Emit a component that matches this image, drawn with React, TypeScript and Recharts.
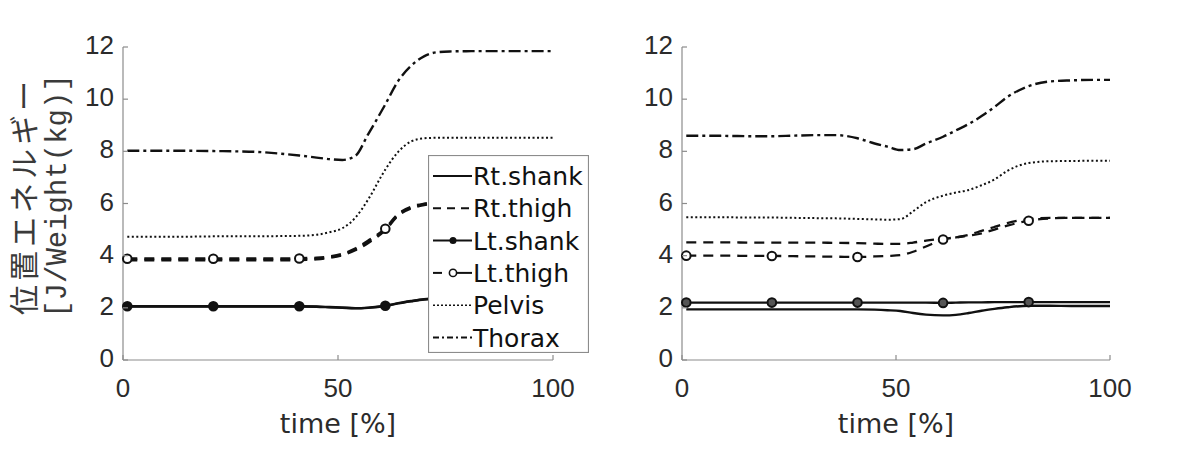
import React from 'react';
import { LineChart, Line, XAxis, YAxis } from 'recharts';

// sample times (% of cycle); markers sit on every 20th sample
const TIME = [1, 6, 11, 16, 21, 26, 31, 36, 41, 45, 48, 51, 54, 57, 61, 64, 67, 70, 73, 76, 81, 86, 91, 96, 100];
const MARK_T = [1, 21, 41, 61, 81];
const X_TICKS = [0, 50, 100];
const Y_TICKS = [0, 2, 4, 6, 8, 10, 12];

// left trial
const L_RT_SHANK = [2.05, 2.05, 2.05, 2.05, 2.05, 2.05, 2.05, 2.05, 2.05, 2.04, 2.02, 2.0, 1.98, 2.0, 2.07, 2.17, 2.25, 2.32, 2.36, 2.38, 2.4, 2.4, 2.4, 2.4, 2.4];
const L_RT_THIGH = [3.83, 3.83, 3.83, 3.83, 3.83, 3.83, 3.83, 3.83, 3.84, 3.87, 3.93, 4.03, 4.22, 4.5, 5.0, 5.55, 5.82, 5.95, 6.0, 6.02, 6.02, 6.02, 6.02, 6.02, 6.02];
const L_LT_SHANK = [2.06, 2.06, 2.06, 2.06, 2.06, 2.06, 2.06, 2.06, 2.06, 2.05, 2.03, 2.01, 1.99, 2.01, 2.08, 2.18, 2.26, 2.33, 2.37, 2.39, 2.41, 2.41, 2.41, 2.41, 2.41];
const L_LT_THIGH = [3.88, 3.88, 3.88, 3.88, 3.88, 3.88, 3.88, 3.88, 3.89, 3.91, 3.96, 4.06, 4.26, 4.56, 5.03, 5.59, 5.86, 5.98, 6.03, 6.05, 6.05, 6.05, 6.05, 6.05, 6.05];
const L_PELVIS = [4.73, 4.73, 4.73, 4.73, 4.74, 4.74, 4.74, 4.75, 4.76, 4.8, 4.9, 5.05, 5.45, 6.15, 7.3, 7.98, 8.38, 8.5, 8.52, 8.52, 8.52, 8.52, 8.52, 8.52, 8.52];
const L_THORAX = [8.02, 8.02, 8.02, 8.02, 8.01, 8.0, 7.98, 7.92, 7.84, 7.76, 7.7, 7.67, 7.82, 8.65, 9.8, 10.7, 11.28, 11.64, 11.8, 11.83, 11.84, 11.84, 11.84, 11.84, 11.84];

// right trial
const R_RT_SHANK = [1.94, 1.94, 1.94, 1.94, 1.94, 1.94, 1.94, 1.94, 1.94, 1.93, 1.91, 1.88, 1.8, 1.74, 1.71, 1.73, 1.8, 1.89, 1.96, 2.02, 2.08, 2.08, 2.07, 2.07, 2.07];
const R_RT_THIGH = [4.51, 4.51, 4.51, 4.5, 4.5, 4.5, 4.5, 4.49, 4.48, 4.46, 4.45, 4.45, 4.5, 4.58, 4.65, 4.7, 4.8, 4.95, 5.1, 5.25, 5.4, 5.45, 5.45, 5.45, 5.45];
const R_LT_SHANK = [2.2, 2.2, 2.2, 2.2, 2.2, 2.2, 2.2, 2.2, 2.2, 2.2, 2.2, 2.2, 2.2, 2.2, 2.19, 2.2, 2.21, 2.21, 2.22, 2.22, 2.22, 2.22, 2.22, 2.22, 2.22];
const R_LT_THIGH = [4.0, 4.0, 4.0, 3.99, 3.99, 3.98, 3.97, 3.96, 3.95, 3.97, 3.99, 4.02, 4.15, 4.35, 4.62, 4.7, 4.77, 4.85, 5.0, 5.15, 5.34, 5.43, 5.45, 5.45, 5.45];
const R_PELVIS = [5.47, 5.47, 5.47, 5.46, 5.46, 5.45, 5.44, 5.43, 5.41, 5.39, 5.38, 5.4, 5.7, 6.05, 6.3, 6.42, 6.52, 6.7, 6.92, 7.25, 7.55, 7.62, 7.63, 7.64, 7.64];
const R_THORAX = [8.6, 8.6, 8.59, 8.58, 8.58, 8.6, 8.62, 8.62, 8.5, 8.3, 8.18, 8.05, 8.08, 8.3, 8.56, 8.8, 9.05, 9.35, 9.7, 10.08, 10.5, 10.68, 10.72, 10.74, 10.74];

const LEGEND_NAMES = ['Rt.shank', 'Rt.thigh', 'Lt.shank', 'Lt.thigh', 'Pelvis', 'Thorax'];

const buildRows = (rs: number[], rt: number[], ls: number[], lt: number[], pv: number[], th: number[]) =>
  TIME.map((t, i) => ({ t, rs: rs[i], rt: rt[i], ls: ls[i], lt: lt[i], pv: pv[i], th: th[i] }));

const leftRows = buildRows(L_RT_SHANK, L_RT_THIGH, L_LT_SHANK, L_LT_THIGH, L_PELVIS, L_THORAX);
const rightRows = buildRows(R_RT_SHANK, R_RT_THIGH, R_LT_SHANK, R_LT_THIGH, R_PELVIS, R_THORAX);

const INK = '#111';
const AXIS = '#8c8c8c';
const TICK_FONT = '"Liberation Sans", Arial, sans-serif';
const TEXT_FONT = '"DejaVu Sans", sans-serif';

const XTick = (p: any) => (
  <g>
    <line x1={p.x} y1={p.y} x2={p.x} y2={p.y - 5} stroke={AXIS} strokeWidth={1.2} />
    <text x={p.x} y={p.y + 37} textAnchor="middle" fontSize={26} fontFamily={TICK_FONT} fill="#2b2b2b">
      {p.payload.value}
    </text>
  </g>
);

const YTick = (p: any) => (
  <g>
    <line x1={p.x} y1={p.y} x2={p.x + 5} y2={p.y} stroke={AXIS} strokeWidth={1.2} />
    <text x={p.x - 9} y={p.y + 7} textAnchor="end" fontSize={26} fontFamily={TICK_FONT} fill="#2b2b2b">
      {p.payload.value}
    </text>
  </g>
);

const markerDot = (fill: string) => (p: any) =>
  MARK_T.includes(p.payload.t) ? (
    <circle key={p.index} cx={p.cx} cy={p.cy} r={4.3} fill={fill} stroke={INK} strokeWidth={2} />
  ) : (
    <g key={p.index} />
  );

function Panel({ rows, width, left, right, thighWidth, shankFill }: any) {
  return (
    <LineChart width={width} height={460} data={rows} margin={{ top: 47, right, bottom: 0, left }}>
      <XAxis
        dataKey="t"
        type="number"
        domain={[0, 100]}
        ticks={X_TICKS}
        height={100}
        axisLine={{ stroke: AXIS, strokeWidth: 1.2 }}
        tickLine={false}
        tickSize={0}
        tickMargin={0}
        tick={XTick}
        label={{ value: 'time [%]', position: 'insideBottom', offset: 27, fontSize: 27, fontFamily: TEXT_FONT, fill: '#2b2b2b' }}
      />
      <YAxis
        type="number"
        domain={[0, 12]}
        ticks={Y_TICKS}
        width={60}
        axisLine={{ stroke: AXIS, strokeWidth: 1.2 }}
        tickLine={false}
        tickSize={0}
        tickMargin={0}
        tick={YTick}
      />
      <Line dataKey="th" type="monotone" stroke={INK} strokeWidth={2.4} strokeDasharray="12 4 3 4" dot={false} isAnimationActive={false} />
      <Line dataKey="pv" type="monotone" stroke={INK} strokeWidth={2} strokeDasharray="2 2.5" dot={false} isAnimationActive={false} />
      <Line dataKey="rt" type="monotone" stroke={INK} strokeWidth={thighWidth} strokeDasharray="10 7" dot={false} isAnimationActive={false} />
      <Line dataKey="lt" type="monotone" stroke={INK} strokeWidth={thighWidth} strokeDasharray="10 7" dot={markerDot('#fff')} isAnimationActive={false} />
      <Line dataKey="rs" type="monotone" stroke={INK} strokeWidth={2.4} dot={false} isAnimationActive={false} />
      <Line dataKey="ls" type="monotone" stroke={INK} strokeWidth={2.4} dot={markerDot(shankFill)} isAnimationActive={false} />
    </LineChart>
  );
}

function LegendSample({ i, y }: { i: number; y: number }) {
  const s = { stroke: INK, strokeWidth: 2 };
  if (i === 0) return <line x1={5} x2={44} y1={y} y2={y} {...s} />;
  if (i === 1) return <line x1={5} x2={44} y1={y} y2={y} {...s} strokeDasharray="8 6" />;
  if (i === 2)
    return (
      <g>
        <line x1={5} x2={44} y1={y} y2={y} {...s} />
        <circle cx={25} cy={y} r={3.5} fill={INK} />
      </g>
    );
  if (i === 3)
    return (
      <g>
        <line x1={5} x2={14} y1={y} y2={y} {...s} />
        <line x1={29} x2={44} y1={y} y2={y} {...s} />
        <circle cx={25} cy={y} r={3.6} fill="#fff" stroke={INK} strokeWidth={1.6} />
      </g>
    );
  if (i === 4) return <line x1={5} x2={44} y1={y} y2={y} stroke={INK} strokeWidth={1.6} strokeDasharray="2 2" />;
  return <line x1={5} x2={44} y1={y} y2={y} {...s} strokeDasharray="6 3 2 3" />;
}

function LegendBox() {
  return (
    <svg width={161} height={198} style={{ position: 'absolute', left: 428, top: 155 }}>
      <rect x={0.5} y={0.5} width={160} height={197} fill="#fff" stroke={AXIS} strokeWidth={1.2} />
      {LEGEND_NAMES.map((name, i) => {
        const y = 21 + i * 32.3;
        return (
          <g key={name}>
            <LegendSample i={i} y={y} />
            <text x={45} y={y + 9} fontSize={25} fontFamily={TEXT_FONT} fill={INK}>
              {name}
            </text>
          </g>
        );
      })}
    </svg>
  );
}

export default function App() {
  return (
    <div style={{ position: 'absolute', left: 0, top: 0, width: 1182, height: 460, background: '#fff', overflow: 'hidden' }}>
      <svg width={80} height={460} style={{ position: 'absolute', left: 0, top: 0 }}>
        <text
          transform="translate(22,196) rotate(-90)"
          textAnchor="middle"
          dominantBaseline="central"
          fontSize={30}
          letterSpacing={4}
          fontFamily='"Noto Sans CJK JP", sans-serif'
          fill="#3a3a3a"
        >
          位置エネルギー
        </text>
        <text
          transform="translate(58,196) rotate(-90)"
          textAnchor="middle"
          dominantBaseline="central"
          fontSize={29}
          fontFamily='"Liberation Mono", monospace'
          fill="#3a3a3a"
        >
          [J/Weight(kg)]
        </text>
      </svg>
      <div style={{ position: 'absolute', left: 0, top: 0 }}>
        <Panel rows={leftRows} width={600} left={63} right={47} thighWidth={3} shankFill={INK} />
      </div>
      <LegendBox />
      <div style={{ position: 'absolute', left: 590, top: 0 }}>
        <Panel rows={rightRows} width={592} left={32} right={72} thighWidth={2.3} shankFill="#555" />
      </div>
    </div>
  );
}
